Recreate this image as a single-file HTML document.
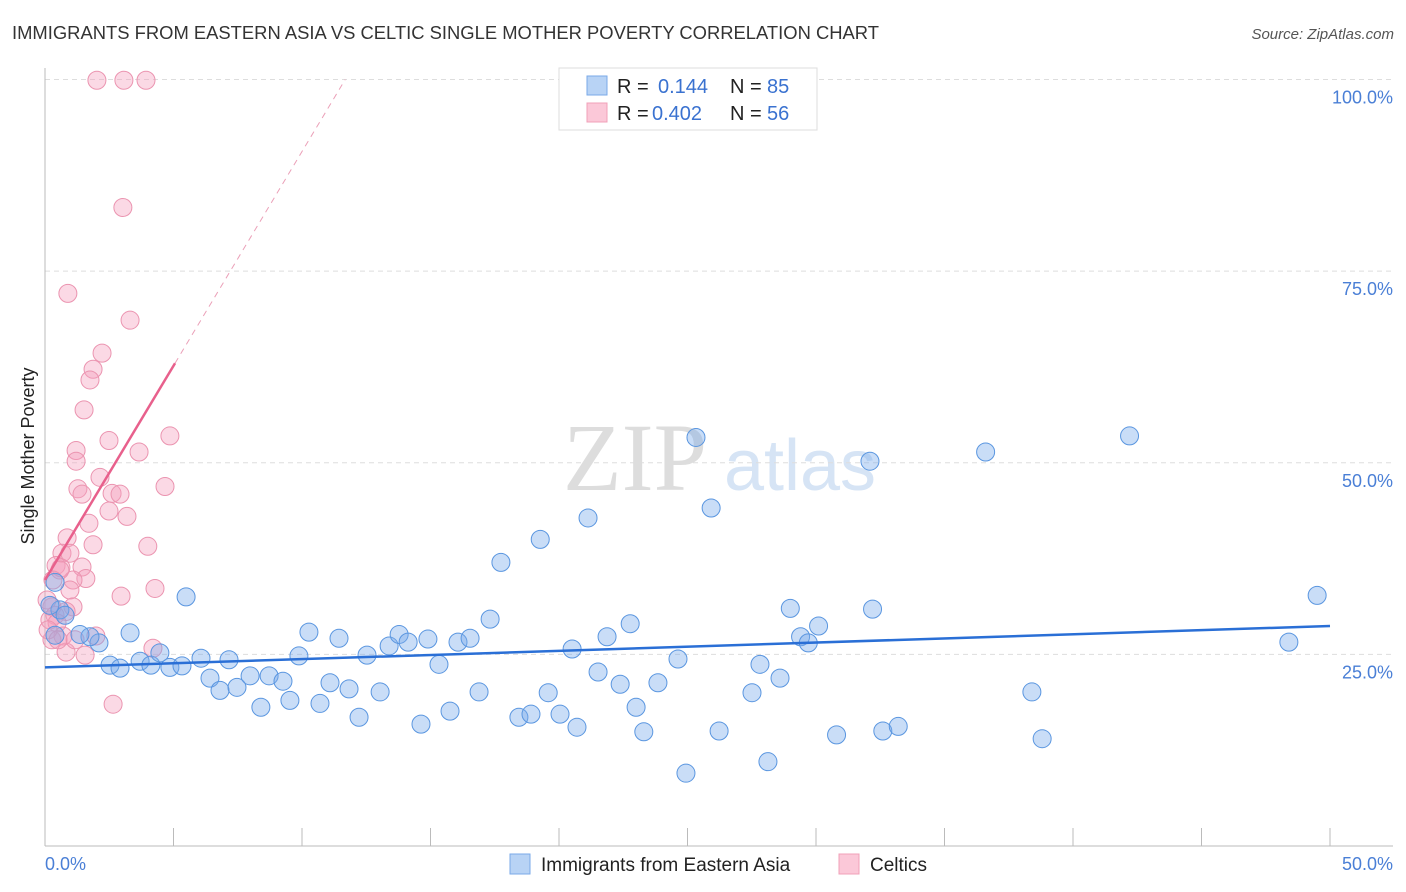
<!DOCTYPE html>
<html><head><meta charset="utf-8"><style>
body{margin:0;background:#fff;font-family:"Liberation Sans",sans-serif}
#c{position:absolute;left:0;top:0}
</style></head><body>
<svg id="c" width="1406" height="892" xmlns="http://www.w3.org/2000/svg">
<text x="12" y="39" font-size="18" fill="#333" textLength="867" lengthAdjust="spacingAndGlyphs">IMMIGRANTS FROM EASTERN ASIA VS CELTIC SINGLE MOTHER POVERTY CORRELATION CHART</text>
<text x="1394" y="39" font-size="15" fill="#555" font-style="italic" text-anchor="end">Source: ZipAtlas.com</text>
<text x="34" y="456" font-size="18" fill="#222" text-anchor="middle" transform="rotate(-90 34 456)">Single Mother Poverty</text>
<g><text x="635" y="490" font-size="96" fill="#ddd" font-family="Liberation Serif" text-anchor="middle">ZIP</text><text x="800" y="490" font-size="72" fill="#d6e4f5" text-anchor="middle">atlas</text></g>
<g id="grid"></g><g id="axes"></g><g id="marks"></g>
<g>
<rect x="559" y="68" width="258" height="62" fill="#fff" stroke="#ddd"/>
<rect x="587" y="76" width="20" height="19" fill="#b8d3f5" stroke="#7aaae8"/>
<rect x="587" y="103" width="20" height="19" fill="#fbc8d8" stroke="#f0a0b8"/>
<text x="617" y="93" font-size="20" fill="#222">R =</text>
<text x="658" y="93" font-size="20" fill="#3a72d0">0.144</text>
<text x="730" y="93" font-size="20" fill="#222">N =</text>
<text x="767" y="93" font-size="20" fill="#3a72d0">85</text>
<text x="617" y="120" font-size="20" fill="#222">R =</text>
<text x="652" y="120" font-size="20" fill="#3a72d0">0.402</text>
<text x="730" y="120" font-size="20" fill="#222">N =</text>
<text x="767" y="120" font-size="20" fill="#3a72d0">56</text>
</g>
<g>
<rect x="510" y="854" width="20" height="20" fill="#b8d3f5" stroke="#7aaae8"/>
<text x="541" y="871" font-size="19" fill="#222">Immigrants from Eastern Asia</text>
<rect x="839" y="854" width="20" height="20" fill="#fbc8d8" stroke="#f0a0b8"/>
<text x="870" y="871" font-size="19" fill="#222">Celtics</text>
</g>
</svg>
<script>
const yTicks=[25,50,75,100];
const yTickLabels=["25.0%","50.0%","75.0%","100.0%"];
const xTicks=[0,5,10,15,20,25,30,35,40,45,50];
const blueX=[5.49,3.31,2.10,1.75,1.36,2.53,2.92,3.70,4.12,4.47,4.86,5.33,6.07,6.42,6.81,7.16,7.47,7.98,8.40,8.72,9.26,9.53,9.88,10.27,10.70,11.09,11.44,11.83,12.22,12.53,13.04,13.39,13.78,14.13,14.63,14.90,15.33,15.76,16.07,16.54,16.89,17.32,17.74,18.44,18.91,19.27,19.58,20.04,20.51,20.70,21.13,21.52,21.87,22.38,22.77,23.0,23.3,23.85,24.63,24.94,25.33,25.92,26.23,27.51,27.82,28.13,28.6,29.0,29.4,29.7,30.1,30.8,32.1,32.2,32.6,33.2,36.6,38.4,38.8,42.2,48.4,49.5,0.39,0.58,0.19,0.78,0.39];
const blueY=[32.5,27.8,26.5,27.3,27.6,23.6,23.2,24.1,23.6,25.2,23.3,23.5,24.5,21.9,20.3,24.3,20.7,22.2,18.1,22.2,21.5,19.0,24.8,27.9,18.6,21.3,27.1,20.5,16.8,24.9,20.1,26.1,27.6,26.6,15.9,27.0,23.7,17.6,26.6,27.1,20.1,29.6,37.0,16.8,17.2,40.0,20.0,17.2,25.7,15.5,42.8,22.7,27.3,21.1,29.0,18.1,14.9,21.3,24.4,9.5,53.3,44.1,15.0,20.0,23.7,11.0,21.9,31.0,27.3,26.5,28.7,14.5,50.2,30.9,15.0,15.6,51.4,20.1,14.0,53.5,26.6,32.7,34.4,30.8,31.4,30.1,27.5];
const pinkX=[2.02,3.07,3.93,3.03,0.89,3.31,2.22,1.87,1.75,1.52,2.49,4.86,3.66,1.21,1.21,4.67,1.28,1.44,2.61,2.92,2.14,2.49,3.19,1.71,4.0,1.87,0.86,0.66,0.97,0.43,0.62,1.44,1.59,1.09,0.97,4.28,2.96,1.09,0.82,0.27,0.39,0.19,0.47,0.70,0.27,4.20,1.56,0.82,2.65,1.98,0.12,0.08,0.58,0.31,0.51,1.17];
const pinkY=[99.9,99.9,99.9,83.3,72.1,68.6,64.3,62.2,60.8,56.9,52.9,53.5,51.4,51.6,50.2,46.9,46.6,45.9,46.0,45.9,48.1,43.7,43.0,42.1,39.1,39.3,40.2,38.2,38.2,36.6,36.3,36.4,34.9,34.7,33.4,33.6,32.6,31.2,30.6,31.2,30.1,29.5,29.1,27.4,26.9,25.8,24.9,25.3,18.5,27.4,28.2,32.1,36.0,34.7,26.9,26.9];
const blueTrend=[23.3,28.7];
const pinkTrend=[34.7,5.59];
const NS="http://www.w3.org/2000/svg";
const X=v=>45+v*25.7, Y=v=>846-v*7.665;
function mk(p,t,a){const e=document.createElementNS(NS,t);for(const k in a)e.setAttribute(k,a[k]);p.appendChild(e);return e;}
const grid=document.getElementById('grid'),axes=document.getElementById('axes'),marks=document.getElementById('marks');
yTicks.forEach((t,i)=>{
 const l=mk(grid,'line',{x1:45,x2:1393,y1:Y(t),y2:Y(t),stroke:'#ddd','stroke-dasharray':'5,4'});
 
 
 const tx=mk(grid,'text',{x:1393,y:Y(t)+24,'font-size':18,fill:'#4a7fd6','text-anchor':'end'});
 tx.textContent=yTickLabels[i];
 
 
});
mk(axes,'line',{x1:45,x2:45,y1:68,y2:846,stroke:'#bbb'});
mk(axes,'line',{x1:45,x2:1393,y1:846,y2:846,stroke:'#bbb'});
xTicks.forEach(t=>{const l=mk(axes,'line',{x1:X(t),x2:X(t),y1:828,y2:846,stroke:'#bbb'});
 
 });
const xl0=mk(axes,'text',{x:45,y:870,'font-size':18,fill:'#4a7fd6'});xl0.textContent='0.0%';


const xl1=mk(axes,'text',{x:1393,y:870,'font-size':18,fill:'#4a7fd6','text-anchor':'end'});xl1.textContent='50.0%';


pinkX.forEach((v,i)=>{const c=mk(marks,'circle',{cx:X(v),cy:Y(pinkY[i]),r:9,fill:'rgba(245,160,190,0.4)',stroke:'#eb94b0','stroke-width':1});
 
 });
blueX.forEach((v,i)=>{const c=mk(marks,'circle',{cx:X(v),cy:Y(blueY[i]),r:9,fill:'rgba(120,170,235,0.4)',stroke:'#5a96e0','stroke-width':1});
 
 });
const bt=mk(marks,'line',{x1:X(0),y1:Y(blueTrend[0]),x2:X(50),y2:Y(blueTrend[1]),stroke:'#2a6fd6','stroke-width':2.5});


const pEnd=5.06, pTop=(100-pinkTrend[0])/pinkTrend[1];
const pt=mk(marks,'line',{x1:X(0),y1:Y(pinkTrend[0]),x2:X(pEnd),y2:Y(pinkTrend[0]+pinkTrend[1]*pEnd),stroke:'#e8608c','stroke-width':2.5});


const pd=mk(marks,'line',{x1:X(pEnd),y1:Y(pinkTrend[0]+pinkTrend[1]*pEnd),x2:X(pTop),y2:Y(100),stroke:'#eba0b8','stroke-width':1,'stroke-dasharray':'6,5'});


</script>
</body></html>
